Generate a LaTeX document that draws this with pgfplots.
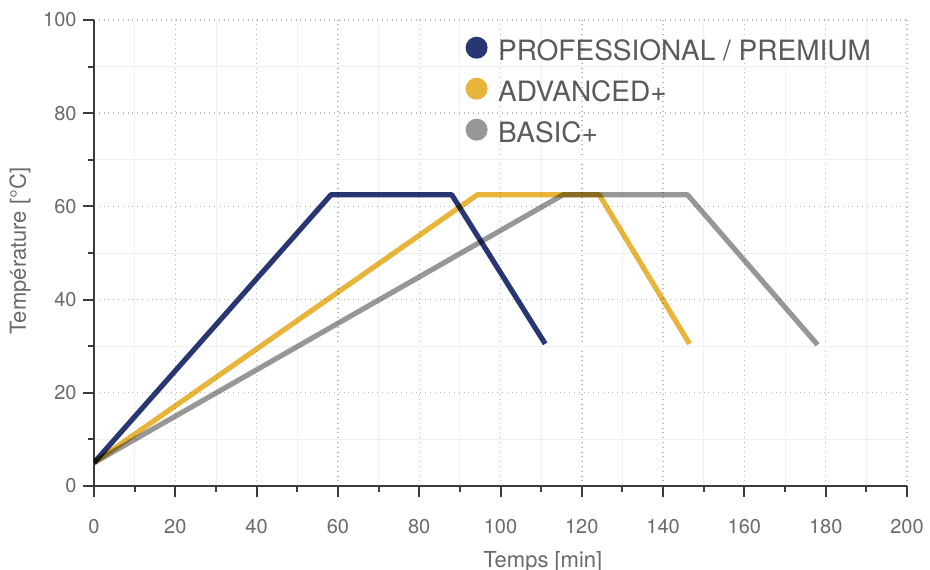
\documentclass[border=0pt]{standalone}
\usepackage{fontspec}
\setmainfont{TeX Gyre Heros}
\usepackage{pgfplots}
\pgfplotsset{compat=1.18}

\definecolor{problue}{HTML}{283673}
\definecolor{advyellow}{HTML}{E8B53A}
\definecolor{basgray}{HTML}{979797}
\definecolor{txtgray}{HTML}{6A6A6A}
\definecolor{axgray}{HTML}{3C3C3C}

\begin{document}
\begin{tikzpicture}
\begin{axis}[
    name=ax,
    scale only axis,
    width=406.5pt, height=233pt,
    xmin=0, xmax=200, ymin=0, ymax=100,
    xtick distance=20, ytick distance=20,
    minor x tick num=1, minor y tick num=1,
    axis x line*=bottom, axis y line*=left,
    axis line style={axgray, line width=1.1pt},
    tick align=outside,
    major tick length=5.5pt, minor tick length=3pt,
    every tick/.style={axgray, line width=1pt},
    grid=both,
    major grid style={dotted, gray!55, line width=0.7pt},
    minor grid style={gray!12, line width=0.4pt},
    /pgf/number format/assume math mode=true,
    ticklabel style={font=\fontsize{10}{12}\selectfont, text=txtgray, inner sep=0pt},
    xticklabel style={anchor=north, yshift=-11pt},
    yticklabel style={anchor=east, xshift=-3pt},
    xlabel={Temps [min]},
    ylabel={Température [°C]},
    every axis x label/.style={at={(rel axis cs:0.552,0)}, anchor=center, yshift=-38pt,
        font=\fontsize{11}{13}\selectfont, text=txtgray},
    every axis y label/.style={at={(rel axis cs:0,0.504)}, anchor=center, xshift=-37pt,
        rotate=90, font=\fontsize{11}{13}\selectfont, text=txtgray},
    every axis plot/.append style={line width=2.6pt, line join=round, blend mode=multiply},
    legend cell align=left,
    legend image code/.code={%
        \path (0pt,0pt) (11pt,0pt);
        \fill[#1, draw=none, overlay] (5.5pt,1.5pt) circle (5.5pt);},
    legend style={
        at={(rel axis cs:0.446,0.965)}, anchor=north west,
        draw=none, fill=none,
        font=\fontsize{14}{16}\selectfont, text=txtgray!85!black,
        nodes={inner sep=0pt, text height=10pt, text depth=0pt},
        row sep=10.5pt,
        /tikz/every odd column/.style={column sep=4pt},
    },
]
\addplot[problue] coordinates {(0,5) (58.3,62.5) (88,62.5) (111,30.5)};
\addplot[advyellow] coordinates {(0,5) (94.3,62.5) (124.3,62.5) (146.5,30.5)};
\addplot[basgray] coordinates {(0,5) (115.4,62.5) (146,62.5) (178,30.3)};
\legend{PROFESSIONAL / PREMIUM, ADVANCED+, BASIC+}
\end{axis}
\pgfresetboundingbox
\path ([shift={(-47pt,-42pt)}]ax.south west) rectangle ([shift={(11.5pt,10pt)}]ax.north east);
\end{tikzpicture}
\end{document}
